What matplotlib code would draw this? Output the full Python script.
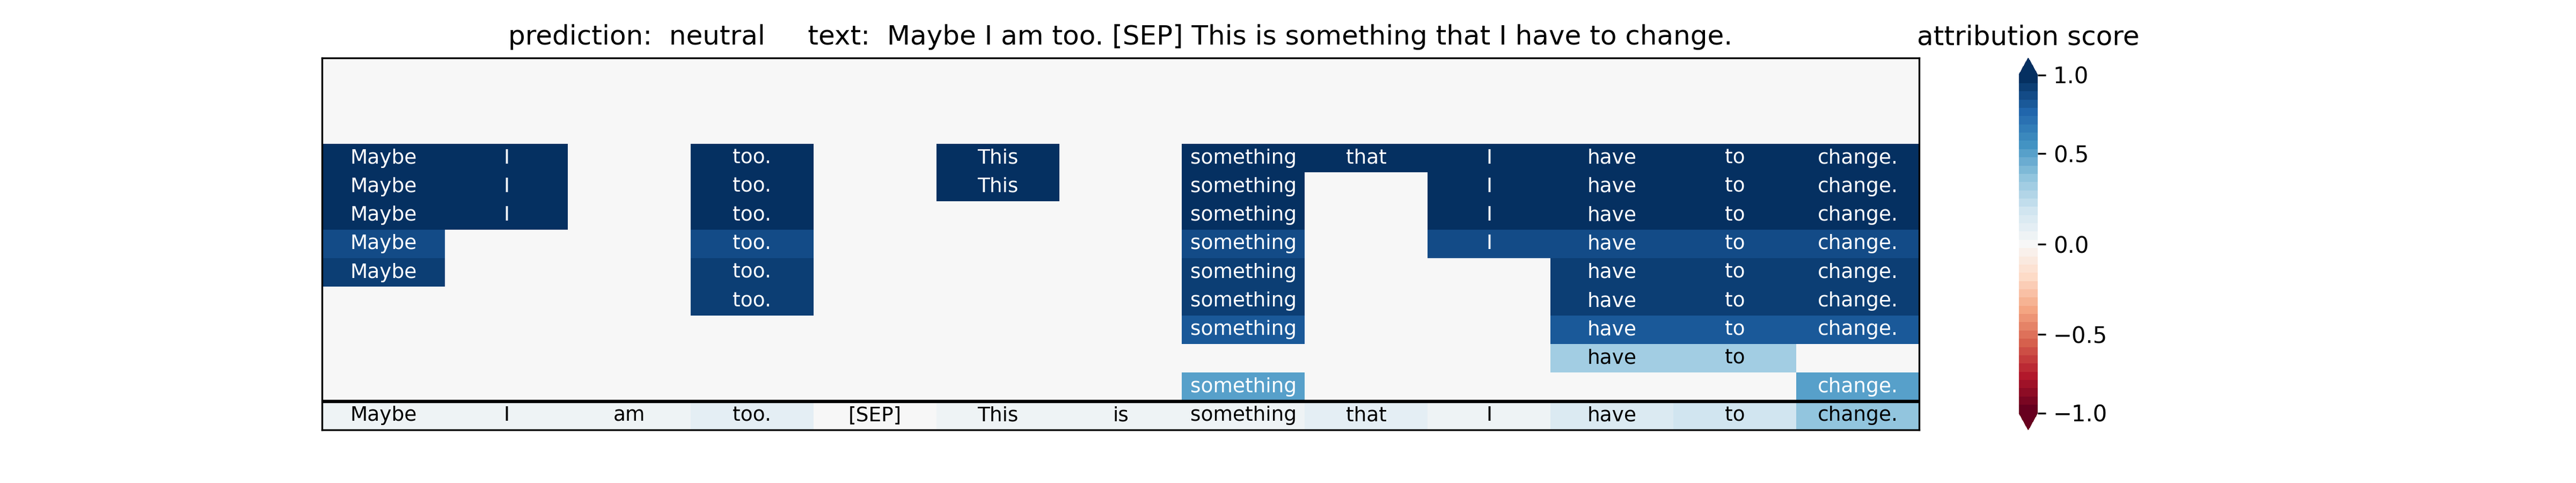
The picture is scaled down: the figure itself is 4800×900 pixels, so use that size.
import numpy as np
import matplotlib
matplotlib.use("Agg")
import matplotlib.pyplot as plt
from matplotlib.colors import FuncNorm

prediction = "neutral"
tokens = ["Maybe", "I", "am", "too.", "[SEP]", "This", "is",
          "something", "that", "I", "have", "to", "change."]

# attribution score of every level of the hierarchy (top row first),
# nan = word not part of a phrase at that level
n = np.nan
level_scores = [
    [n, n, n, n, n, n, n, n, n, n, n, n, n],
    [n, n, n, n, n, n, n, n, n, n, n, n, n],
    [n, n, n, n, n, n, n, n, n, n, n, n, n],
    [1.0, 1.0, n, 1.0, n, 1.0, n, 1.0, 1.0, 1.0, 1.0, 1.0, 1.0],
    [1.0, 1.0, n, 1.0, n, 1.0, n, 1.0, n, 1.0, 1.0, 1.0, 1.0],
    [1.0, 1.0, n, 1.0, n, n, n, 1.0, n, 1.0, 1.0, 1.0, 1.0],
    [0.89, n, n, 0.89, n, n, n, 0.89, n, 0.89, 0.89, 0.89, 0.89],
    [0.93, n, n, 0.93, n, n, n, 0.93, n, n, 0.93, 0.93, 0.93],
    [n, n, n, 0.93, n, n, n, 0.93, n, n, 0.93, 0.93, 0.93],
    [n, n, n, n, n, n, n, 0.81, n, n, 0.81, 0.81, 0.81],
    [n, n, n, n, n, n, n, n, n, n, 0.32, 0.32, n],
    [n, n, n, n, n, n, n, 0.49, n, n, n, n, 0.49],
]
# single word scores (bottom row)
word_scores = [0.045, 0.045, 0.045, 0.09, 0.0, 0.045, 0.045, 0.04, 0.09, 0.045, 0.12, 0.18, 0.37]

cbar_ticks = [-1.0, -0.5, 0.0, 0.5, 1.0]

# colour scale: slightly compressed towards the ends
p = 0.9
def fwd(x):
    return np.sign(x) * np.abs(x) ** p
def inv(y):
    return np.sign(y) * np.abs(y) ** (1 / p)

norm = FuncNorm((fwd, inv), vmin=-1, vmax=1)
cmap = plt.get_cmap("RdBu", 41)

text = " ".join(tokens)
fig, ax = plt.subplots(figsize=(16, 3), dpi=300)

n_rows = len(level_scores) + 1
cols = np.arange(len(tokens))
rows = level_scores + [word_scores]
for r, scores in enumerate(rows):
    scores = np.array(scores, dtype=float)
    y = n_rows - 1 - r
    ax.bar(cols, 1, bottom=y, width=1, align="center",
           color=cmap(norm(np.nan_to_num(scores))), linewidth=0)
    is_word_row = r == n_rows - 1
    for c, s in enumerate(scores):
        if np.isnan(s):
            continue
        # white text on strong colours
        tc = "white" if abs(s) > 0.42 and not is_word_row else "black"
        ax.text(c, y + 0.5, tokens[c], ha="center", va="center",
                fontsize=9, color=tc)

ax.axhline(1, color="black", linewidth=1.5)
ax.set_xlim(-0.5, len(tokens) - 0.5)
ax.set_ylim(0, n_rows)
ax.set_xticks([])
ax.set_yticks([])
ax.set_title("prediction:  " + prediction + "     text:  " + text)

sm = plt.cm.ScalarMappable(norm=norm, cmap=cmap)
cbar = fig.colorbar(sm, ax=ax, extend="both", ticks=cbar_ticks)
cbar.outline.set_visible(False)
cbar.ax.set_title("attribution score")

fig.savefig("out.png", dpi=300)
